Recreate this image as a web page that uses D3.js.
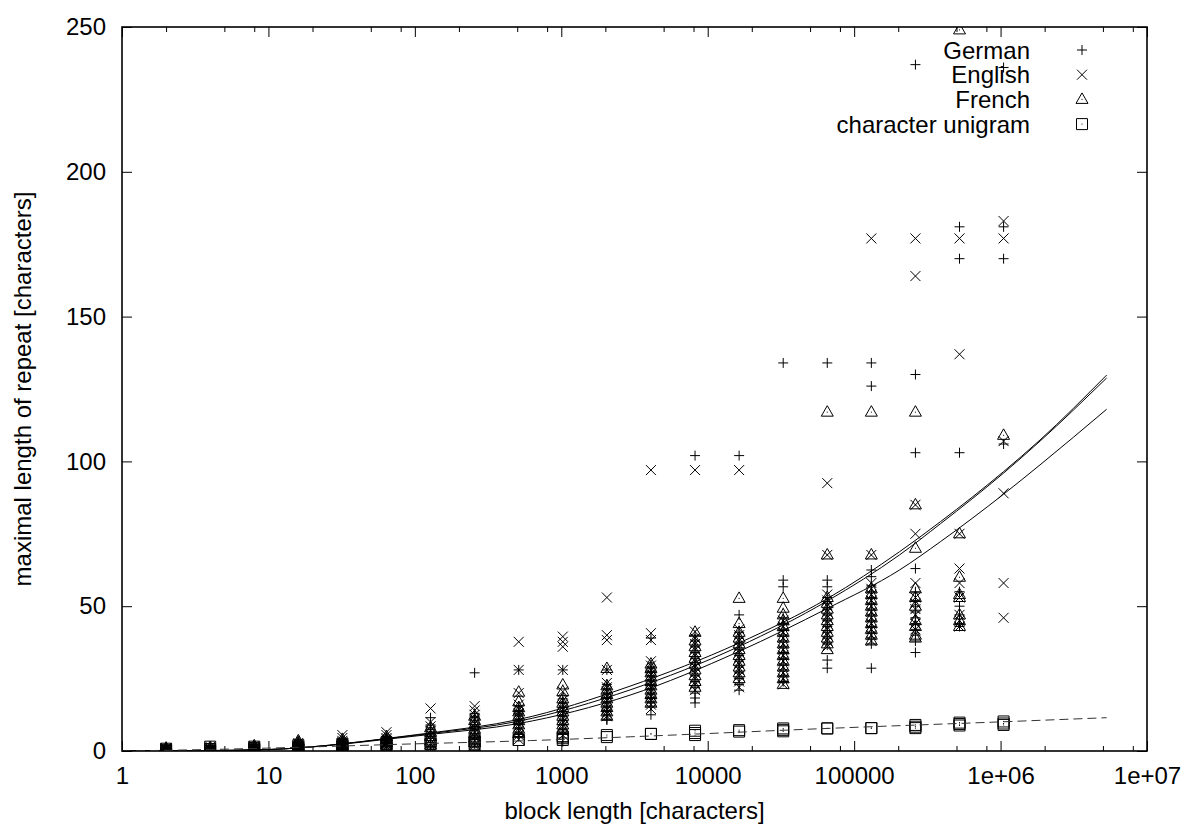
<!DOCTYPE html>
<html>
<head>
<meta charset="utf-8">
<script src="https://cdn.jsdelivr.net/npm/d3@7"></script>
<style>
	body { margin: 0; background: #fff; }
	text { font-family: "Liberation Sans", Arial, Helvetica, sans-serif; font-size: 24px; fill: #000; }
</style>
</head>
<body>
<script>
//Block lengths, one column of points per length
let blockLengths = [2, 4, 8, 16, 32, 64, 128, 256, 512, 1024, 2048, 4096, 8192, 16384,
	32768, 65536, 131072, 262144, 524288, 1048576];

//Maximal repeat lengths per block length (one list per column)
let germanValues = [
	[0, 0.4, 0.8, 1.2, 0.2, 0.6, 1],
	[0, 0.5, 1, 1.5, 0.3, 0.8, 1.2],
	[0, 0.5, 1, 1.5, 2, 0.3, 0.8, 1.3],
	[0.5, 1, 1.5, 2, 2.5, 3, 0.8, 1.8],
	[1, 2, 3, 4, 1.5, 2.5, 3.5, 0.5],
	[1.5, 2.5, 3.5, 4.5, 5, 2, 3, 4],
	[11.5, 9, 7.5, 6, 4.5, 3, 1.5, 8],
	[27, 13, 11.5, 10, 8.5, 7, 5.5, 4, 2.5, 12, 9],
	[28, 15.5, 14, 12.5, 11, 9.5, 8, 6.5, 5, 13, 10],
	[28, 18, 16.5, 15, 13.5, 12, 10.5, 9, 7.5, 6, 4.5, 3.2],
	[28, 23, 21.5, 20, 18.5, 17, 15.5, 14, 12.5, 11, 10.7],
	[39, 29, 27.5, 26, 24.5, 23, 21.5, 20, 18.5, 17, 15.5, 12.5],
	[102, 40, 38, 36, 34, 32, 30, 28, 26, 24, 22, 20, 18.3, 16.6],
	[102, 47, 41, 39, 37, 35, 33, 31, 29, 27, 25, 23, 21],
	[134, 59, 56.7, 46, 44, 42, 40, 38, 36, 34, 32, 30, 28, 26, 24],
	[134, 59, 56.7, 53, 51, 49, 47, 45, 43, 41, 39, 37, 31.4, 28.6],
	[134, 126, 62.5, 60.2, 57, 55, 53, 51, 49, 47, 45, 43, 41, 39, 37, 28.6],
	[237, 130, 103, 63, 55, 52, 50, 48, 46, 44, 42, 40, 38, 34],
	[181, 170, 103, 55, 50, 47, 44, 43],
	[236, 181, 170, 106]
];
let englishValues = [
	[0, 0.5, 1, 0.3, 0.8],
	[0, 0.5, 1, 1.5, 0.2, 0.7],
	[0.2, 0.7, 1.2, 1.7, 0.4, 1],
	[0.3, 0.8, 1.3, 1.8, 2.3, 2.8],
	[5.5, 4.5, 3.5, 2.5, 1.5, 0.5, 3, 2],
	[6.5, 5.5, 4.5, 3.5, 2.5, 1.5, 4, 3],
	[14.7, 10, 8.5, 7, 5.5, 4, 2.5, 1],
	[15.5, 14, 12.5, 11, 9.5, 8, 6.5, 5, 3.5, 2],
	[37.7, 28, 20, 16, 14.5, 13, 11.5, 10, 8.5, 7, 5.5, 4],
	[39.5, 37.7, 36, 28, 20.5, 17.5, 16, 14.5, 13, 11.5, 10, 8.5, 7, 5.5],
	[53, 40, 38.3, 28, 23.5, 22, 20.5, 19, 17.5, 16, 14.5, 13, 12],
	[97, 40.7, 38.3, 31, 29.5, 28, 26.5, 25, 23.5, 22, 20.5, 19, 17.5, 16, 14.5],
	[97, 41.2, 39, 37, 35, 33, 31, 29, 27, 25, 23, 21],
	[97, 42, 40, 38, 36, 34, 32, 30, 28, 26, 24, 22],
	[45, 43, 41, 39, 37, 35, 33, 31, 29, 27, 25, 23],
	[92.5, 67.7, 54, 52, 50, 48, 46, 44, 42, 40, 38, 36],
	[177, 67.7, 58, 56, 54, 52, 50, 48, 46, 44, 42, 40, 38],
	[177, 164, 85, 75, 58, 53, 51, 49, 47, 44, 42],
	[177, 137, 75, 63, 58, 53, 47, 45, 43],
	[183, 177, 107, 89, 58, 46]
];
let frenchValues = [
	[0, 0.5, 1, 0.2],
	[0, 0.6, 1.2, 0.3],
	[0, 0.6, 1.2, 1.8, 0.9],
	[3.5, 1, 2, 3, 1.5, 2.5],
	[4, 3, 2, 1, 2.7, 1.7],
	[5, 4, 3, 2, 1, 3.7],
	[8, 6.5, 5, 3.5, 2, 0.5],
	[12, 10.5, 9, 7.5, 6, 4.5, 3, 1.5],
	[20.3, 17, 15, 13.5, 12, 10.5, 9, 7.5, 6],
	[22.8, 20.5, 18, 16.5, 15, 13.5, 12, 10.5, 9, 7.5],
	[28.5, 22.5, 21, 19.5, 18, 16.5, 15, 13.5, 12],
	[30, 28.5, 27, 25.5, 24, 22.5, 21, 19.5, 18, 16.5],
	[41, 38, 36, 34, 32, 30, 28, 26, 24, 22],
	[52.7, 44, 41, 39, 37, 35, 33, 31, 29, 27, 25],
	[52.7, 49.3, 47, 45, 43, 41, 39, 37, 35, 33, 31, 29, 27, 25, 23],
	[117, 67.7, 53, 51, 49, 47, 45, 43, 41, 39, 37, 35],
	[117, 67.7, 56, 54, 52, 50, 48, 46, 44, 42, 40, 38],
	[117, 85, 70, 56, 53, 50, 45, 43, 40, 39],
	[249, 75, 60, 54, 53, 47, 45, 43],
	[109]
];
let unigramValues = [
	[0, 0.4, 0.8],
	[0, 1.5, 0.7],
	[0.5, 1, 1.5],
	[1.5, 1, 2],
	[2, 1.5, 2.5],
	[2.5, 2, 3],
	[3.2, 2.5],
	[3.2, 2.5, 4],
	[3.8, 3.8],
	[4.4, 3.8, 5],
	[5.5, 4.8],
	[5.9, 5.9],
	[5.5, 6.2, 7],
	[6.7, 7.2],
	[7.3, 7.8, 6.8],
	[7.8, 7.8],
	[7.9, 7.9],
	[8.4, 9, 7.9],
	[9.3, 9.8, 8.8],
	[9.5, 10.2, 9]
];

//Fit curves (block length, value)
let fitLengths = [1, 3, 10, 26, 68, 126, 513, 2950, 16200, 66000, 204000, 389000, 1050000, 1860000, 5300000];
let germanFit = [0, 0.1, 0.5, 2.0, 4.5, 6.2, 10.9, 22.4, 37.2, 52.7, 68.8, 79.2, 96.5, 107.4, 129.8];
let frenchFit = [0, 0.1, 0.5, 2.0, 4.4, 6.0, 10.3, 21.1, 36.0, 51.9, 67.7, 78.5, 96.0, 107.0, 128.8];
let englishFit = [0, 0.1, 0.5, 1.9, 4.2, 5.7, 9.5, 19.3, 34.3, 49.3, 62.5, 72.3, 88.7, 98.8, 118.0];
let unigramFitLengths = [1, 3, 10, 76, 616, 2950, 66000, 1050000, 5300000];
let unigramFit = [0, 0.4, 1.0, 2.3, 3.6, 4.9, 7.8, 10.1, 11.5];

//Axis ticks
let xTickValues = [1, 10, 100, 1000, 10000, 100000, 1e6, 1e7];
let xTickLabels = ["1", "10", "100", "1000", "10000", "100000", "1e+06", "1e+07"];
let xMinorTicks = [2, 5, 8, 20, 50, 80, 200, 500, 800, 2000, 5000, 8000, 2e4, 5e4, 8e4,
	2e5, 5e5, 8e5, 2e6, 5e6, 8e6];
let yTickValues = [0, 50, 100, 150, 200, 250];

let seriesNames = ["German", "English", "French", "character unigram"];

window.onload = function(){
	let w = 1186, h = 827;
	let left = 122, right = 1147, top = 27, bottom = 751;

	let svg = d3.select("body")
		.append("svg")
		.attr("width", w)
		.attr("height", h);

	//Scales
	let x = d3.scaleLog()
		.domain([1, 1e7])
		.range([left, right]);
	let y = d3.scaleLinear()
		.domain([0, 250])
		.range([bottom, top]);

	//Clip for points and lines
	svg.append("clipPath")
		.attr("id", "plotClip")
		.append("rect")
		.attr("x", left)
		.attr("y", top)
		.attr("width", right - left)
		.attr("height", bottom - top);

	//Axes with inward ticks (gnuplot style), mirrored on top and right
	let xAxis = d3.axisBottom(x)
		.tickValues(xTickValues)
		.tickFormat(function(d, i){ return xTickLabels[i]; })
		.tickSizeInner(-10)
		.tickSizeOuter(0)
		.tickPadding(16);
	svg.append("g")
		.attr("class", "axis")
		.attr("transform", "translate(0," + bottom + ")")
		.call(xAxis);

	svg.append("g")
		.attr("class", "axis")
		.attr("transform", "translate(0," + bottom + ")")
		.call(d3.axisBottom(x).tickValues(xMinorTicks).tickFormat("").tickSizeInner(-5).tickSizeOuter(0));

	svg.append("g")
		.attr("class", "axis")
		.attr("transform", "translate(0," + top + ")")
		.call(d3.axisTop(x).tickValues(xTickValues).tickFormat("").tickSizeInner(-10).tickSizeOuter(0));

	svg.append("g")
		.attr("class", "axis")
		.attr("transform", "translate(0," + top + ")")
		.call(d3.axisTop(x).tickValues(xMinorTicks).tickFormat("").tickSizeInner(-5).tickSizeOuter(0));

	svg.append("g")
		.attr("class", "axis")
		.attr("transform", "translate(" + left + ",0)")
		.call(d3.axisLeft(y).tickValues(yTickValues).tickSizeInner(-10).tickSizeOuter(0).tickPadding(16));

	svg.append("g")
		.attr("class", "axis")
		.attr("transform", "translate(" + right + ",0)")
		.call(d3.axisRight(y).tickValues(yTickValues).tickFormat("").tickSizeInner(-10).tickSizeOuter(0));

	svg.selectAll(".axis .domain").remove();
	svg.selectAll(".axis line").attr("stroke", "#000").attr("stroke-width", 1);
	svg.selectAll(".axis text")
		.attr("font-family", null)
		.attr("font-size", null)
		.attr("fill", "#000");

	//Frame
	svg.append("rect")
		.attr("x", left)
		.attr("y", top)
		.attr("width", right - left)
		.attr("height", bottom - top)
		.attr("fill", "none")
		.attr("stroke", "#000")
		.attr("stroke-width", 1.6);

	//Marker shapes
	let markerPath = {
		plus: "M-5,0H5M0,-5V5",
		cross: "M-5,-5L5,5M-5,5L5,-5",
		triangle: "M0,-6.5L6,4H-6Z",
		square: "M-5.5,-5.5H5.5V5.5H-5.5Z"
	};
	let markerTypes = ["plus", "cross", "triangle", "square"];

	//Flatten the columns into points
	let allSeries = [germanValues, englishValues, frenchValues, unigramValues];
	let points = [];
	allSeries.forEach(function(series, s){
		series.forEach(function(col, i){
			col.forEach(function(v){
				points.push({ len: blockLengths[i], val: v, type: markerTypes[s] });
			});
		});
	});

	let plot = svg.append("g")
		.attr("clip-path", "url(#plotClip)");

	let markers = plot.selectAll(".marker")
		.data(points)
		.enter()
		.append("g")
		.attr("class", "marker")
		.attr("transform", function(d){
			return "translate(" + x(d.len) + "," + y(d.val) + ")";
		});

	markers.append("path")
		.attr("d", function(d){ return markerPath[d.type]; })
		.attr("fill", "none")
		.attr("stroke", "#000")
		.attr("stroke-width", 1);

	//Center dot of open markers
	markers.filter(function(d){ return d.type === "triangle" || d.type === "square"; })
		.append("rect")
		.attr("x", -0.5)
		.attr("y", -0.5)
		.attr("width", 1)
		.attr("height", 1)
		.attr("fill", "#000");

	//Fit curves
	let line = d3.line()
		.x(function(d){ return x(d[0]); })
		.y(function(d){ return y(d[1]); })
		.curve(d3.curveMonotoneX);

	[germanFit, frenchFit, englishFit].forEach(function(fit){
		plot.append("path")
			.datum(d3.zip(fitLengths, fit))
			.attr("d", line)
			.attr("fill", "none")
			.attr("stroke", "#000")
			.attr("stroke-width", 1);
	});

	plot.append("path")
		.datum(d3.zip(unigramFitLengths, unigramFit))
		.attr("d", line)
		.attr("fill", "none")
		.attr("stroke", "#333")
		.attr("stroke-width", 1)
		.attr("stroke-dasharray", "9,5");

	//Legend (points only)
	let legend = svg.selectAll(".legend")
		.data(seriesNames)
		.enter()
		.append("g")
		.attr("class", "legend")
		.attr("transform", function(d, i){
			return "translate(0," + (50 + i * 24.7) + ")";
		});

	legend.append("text")
		.attr("x", 1030)
		.attr("y", 8.5)
		.attr("text-anchor", "end")
		.text(function(d){ return d; });

	legend.append("path")
		.attr("transform", "translate(1082,0)")
		.attr("d", function(d, i){ return markerPath[markerTypes[i]]; })
		.attr("fill", "none")
		.attr("stroke", "#000")
		.attr("stroke-width", 1);

	legend.filter(function(d, i){ return i >= 2; })
		.append("rect")
		.attr("x", 1081.5)
		.attr("y", -0.5)
		.attr("width", 1)
		.attr("height", 1)
		.attr("fill", "#000");

	//Axis titles
	svg.append("text")
		.attr("x", (left + right) / 2)
		.attr("y", 819)
		.attr("text-anchor", "middle")
		.text("block length [characters]");

	svg.append("text")
		.attr("transform", "translate(31," + ((top + bottom) / 2) + ") rotate(-90)")
		.attr("text-anchor", "middle")
		.text("maximal length of repeat [characters]");
};
</script>
</body>
</html>
